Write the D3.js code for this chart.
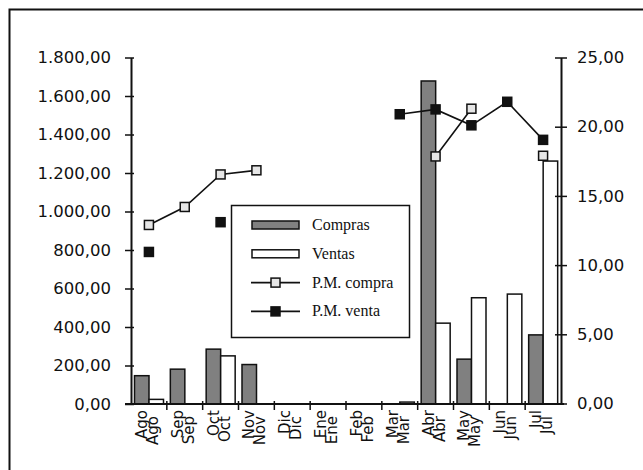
<!DOCTYPE html>
<html>
<head>
<meta charset="utf-8">
<script src="https://cdn.jsdelivr.net/npm/d3@7"></script>
<style>
  body { margin: 0; background: #fff; }
  svg { display: block; }
  .tick-label { font-family: "DejaVu Sans", sans-serif; font-size: 16.5px; fill: #111; }
  .mes { font-family: "DejaVu Sans", sans-serif; font-size: 15px; fill: #111; }
  .leyenda { font-family: "Liberation Serif", serif; font-size: 16px; fill: #111; }
</style>
</head>
<body>
<div id="grafico"></div>
<script>
// datos
const meses = ["Ago", "Sep", "Oct", "Nov", "Dic", "Ene", "Feb", "Mar", "Abr", "May", "Jun", "Jul"];
const compras = [147, 181, 285, 205, 0, 0, 0, 0, 1678, 233, 0, 359];
const ventas = [24, 0, 250, 0, 0, 0, 0, 10, 420, 552, 571, 1262];
const pmCompra = [12.9, 14.2, 16.55, 16.85, null, null, null, null, 17.85, 21.3, null, 17.9];
const pmVenta = [10.95, null, 13.1, null, null, null, null, 20.9, 21.25, 20.1, 21.8, 19.05];
const ticksIzq = [0, 200, 400, 600, 800, 1000, 1200, 1400, 1600, 1800];
const ticksDer = [0, 5, 10, 15, 20, 25];

const ancho = 643, alto = 470;
const x0 = 131, x1 = 561, yBase = 404, yTope = 57.5;

const svg = d3.select("#grafico").append("svg")
    .attr("width", ancho)
    .attr("height", alto);

const fmt = v => {
    const s = d3.format(",.2f")(v);
    return s.replace(/,/g, "#").replace(".", ",").replace(/#/g, ".");
};

// marco exterior
svg.append("rect")
    .attr("x", 9.5).attr("y", 9.5)
    .attr("width", 640).attr("height", 480)
    .attr("fill", "none")
    .attr("stroke", "#111")
    .attr("stroke-width", 2);

const x = d3.scaleBand().domain(meses).range([x0, x1]).padding(0);
const yIzq = d3.scaleLinear().domain([0, 1800]).range([yBase, yTope]);
const yDer = d3.scaleLinear().domain([0, 25]).range([yBase - 0.5, yTope]);

const bw = x.bandwidth();
const barAncho = 14.5, off = 3.5;

// barras compras
svg.append("g").selectAll("rect")
    .data(meses.map((m, i) => ({ m, v: compras[i] })).filter(d => d.v > 0))
    .join("rect")
    .attr("x", d => x(d.m) + off)
    .attr("y", d => yIzq(d.v))
    .attr("width", barAncho)
    .attr("height", d => yBase - yIzq(d.v))
    .attr("fill", "#808080")
    .attr("stroke", "#111")
    .attr("stroke-width", 1.5);

// barras ventas
svg.append("g").selectAll("rect")
    .data(meses.map((m, i) => ({ m, v: ventas[i] })).filter(d => d.v > 0))
    .join("rect")
    .attr("x", d => x(d.m) + off + barAncho)
    .attr("y", d => yIzq(d.v))
    .attr("width", barAncho)
    .attr("height", d => yBase - yIzq(d.v))
    .attr("fill", "#fff")
    .attr("stroke", "#111")
    .attr("stroke-width", 1.5);

// lineas de precio medio
const linea = d3.line()
    .defined(d => d.v !== null)
    .x(d => x(d.m) + bw / 2)
    .y(d => yDer(d.v));

function serie(valores, relleno) {
    const datos = meses.map((m, i) => ({ m, v: valores[i] }));
    svg.append("path")
        .datum(datos)
        .attr("d", linea)
        .attr("fill", "none")
        .attr("stroke", "#111")
        .attr("stroke-width", 1.6);
    svg.append("g").selectAll("rect")
        .data(datos.filter(d => d.v !== null))
        .join("rect")
        .attr("x", d => x(d.m) + bw / 2 - 4.5)
        .attr("y", d => yDer(d.v) - 4.5)
        .attr("width", 9)
        .attr("height", 9)
        .attr("fill", relleno)
        .attr("stroke", "#111")
        .attr("stroke-width", 1.5);
}
serie(pmCompra, "#e6e6e6");
serie(pmVenta, "#111");

// eje izquierdo
const ejeIzq = svg.append("g").attr("transform", `translate(${x0},0)`)
    .call(d3.axisLeft(yIzq).tickValues(ticksIzq).tickFormat(fmt).tickSizeInner(6).tickSizeOuter(0));
ejeIzq.select(".domain").attr("stroke", "#111").attr("stroke-width", 2);
ejeIzq.selectAll(".tick line").attr("stroke", "#111").attr("stroke-width", 1.5).attr("x2", -6).attr("x1", 3);
ejeIzq.selectAll(".tick text").attr("class", "tick-label").attr("x", -20).attr("font-family", null).attr("font-size", null);

// eje derecho
const ejeDer = svg.append("g").attr("transform", `translate(${x1},0)`)
    .call(d3.axisRight(yDer).tickValues(ticksDer).tickFormat(fmt).tickSizeInner(6).tickSizeOuter(0));
ejeDer.select(".domain").attr("stroke", "#111").attr("stroke-width", 2);
ejeDer.selectAll(".tick line").attr("stroke", "#111").attr("stroke-width", 1.5).attr("x1", -6).attr("x2", 6);
ejeDer.selectAll(".tick text").attr("class", "tick-label").attr("x", 16).attr("font-family", null).attr("font-size", null);

// eje x
svg.append("line")
    .attr("x1", x0 - 6).attr("x2", x1 + 3)
    .attr("y1", yBase).attr("y2", yBase)
    .attr("stroke", "#111").attr("stroke-width", 2);
svg.append("g").selectAll("line")
    .data(meses.slice(1))
    .join("line")
    .attr("x1", d => x(d)).attr("x2", d => x(d))
    .attr("y1", yBase - 3).attr("y2", yBase + 6)
    .attr("stroke", "#111").attr("stroke-width", 1.5);

// etiquetas de meses (doble impresion como en el original)
[{ dx: -2, y: 410 }, { dx: 9, y: 416 }].forEach(c => {
    svg.append("g").selectAll("text")
        .data(meses)
        .join("text")
        .attr("class", "mes")
        .attr("text-anchor", "end")
        .attr("transform", d => `translate(${x(d) + bw / 2 + c.dx},${c.y}) rotate(-90)`)
        .text(d => d);
});

// leyenda
const ley = svg.append("g");
ley.append("rect")
    .attr("x", 231.5).attr("y", 205.5)
    .attr("width", 178).attr("height", 132)
    .attr("fill", "#fff")
    .attr("stroke", "#111")
    .attr("stroke-width", 1.5);
const filas = [
    { nombre: "Compras", tipo: "barra", color: "#808080" },
    { nombre: "Ventas", tipo: "barra", color: "#fff" },
    { nombre: "P.M. compra", tipo: "linea", color: "#e6e6e6" },
    { nombre: "P.M. venta", tipo: "linea", color: "#111" }
];
filas.forEach((f, i) => {
    const yy = 225 + i * 28.8;
    if (f.tipo === "barra") {
        ley.append("rect")
            .attr("x", 252).attr("y", yy - 4)
            .attr("width", 47).attr("height", 8)
            .attr("fill", f.color)
            .attr("stroke", "#111").attr("stroke-width", 1.5);
    } else {
        ley.append("line")
            .attr("x1", 251).attr("x2", 300)
            .attr("y1", yy).attr("y2", yy)
            .attr("stroke", "#111").attr("stroke-width", 1.6);
        ley.append("rect")
            .attr("x", 271).attr("y", yy - 4.5)
            .attr("width", 9).attr("height", 9)
            .attr("fill", f.color)
            .attr("stroke", "#111").attr("stroke-width", 1.5);
    }
    ley.append("text")
        .attr("class", "leyenda")
        .attr("x", 312).attr("y", yy + 5)
        .text(f.nombre);
});
</script>
</body>
</html>
